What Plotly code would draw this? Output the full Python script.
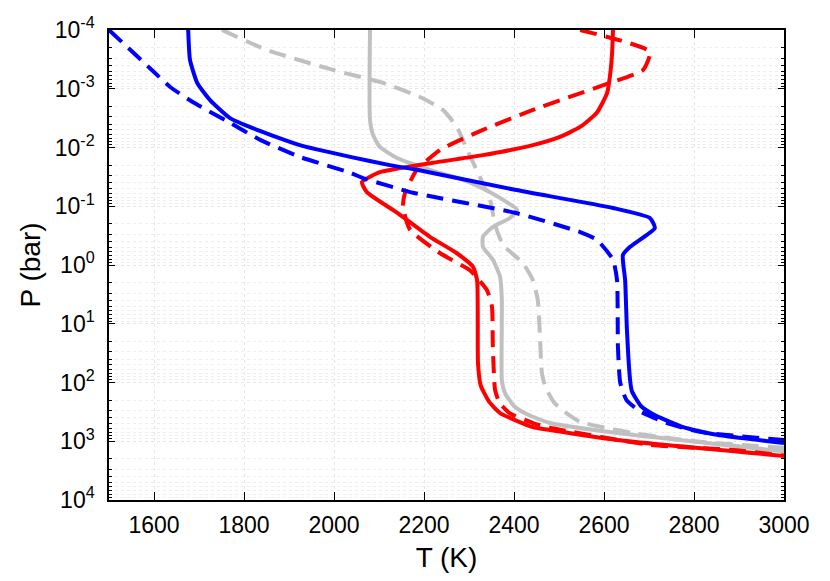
import plotly.graph_objects as go

# Temperature (K) and log10 pressure (bar)
blue_solid_T = [1676, 1680, 1696, 1724, 1769, 1829, 1924, 2036, 2124, 2184, 2402, 2620, 2702, 2713, 2658, 2642, 2647, 2651, 2658, 2662, 2682, 2709, 2776, 2851, 3000]
blue_solid_logP = [-4.0, -3.49, -3.10, -2.81, -2.50, -2.30, -2.04, -1.84, -1.70, -1.62, -1.28, -0.97, -0.80, -0.63, -0.31, -0.17, 0.26, 1.11, 1.96, 2.15, 2.40, 2.54, 2.76, 2.89, 3.03]

blue_dash_T = [1500, 1591, 1636, 1687, 1769, 1836, 1924, 2036, 2064, 2176, 2402, 2547, 2584, 2620, 2629, 2631, 2636, 2650, 2680, 2740, 2813, 3000]
blue_dash_logP = [-4.0, -3.35, -3.03, -2.77, -2.42, -2.13, -1.84, -1.57, -1.48, -1.23, -0.89, -0.56, -0.43, -0.09, 0.26, 1.40, 2.00, 2.30, 2.49, 2.69, 2.84, 2.98]

grey_solid_T = [2080, 2080, 2087, 2102, 2140, 2213, 2287, 2347, 2384, 2407, 2391, 2353, 2331, 2331, 2353, 2369, 2373, 2373, 2380, 2400, 2429, 2480, 2629, 3000]
grey_solid_logP = [-4.0, -2.47, -2.21, -2.01, -1.82, -1.62, -1.45, -1.24, -1.07, -0.94, -0.80, -0.65, -0.48, -0.31, -0.09, 0.20, 0.60, 1.96, 2.18, 2.40, 2.54, 2.69, 2.86, 3.17]

grey_dash_T = [1751, 1851, 1998, 2109, 2191, 2242, 2273, 2296, 2324, 2347, 2358, 2376, 2420, 2442, 2453, 2458, 2462, 2470, 2490, 2518, 2547, 2664, 2813, 3000]
grey_dash_logP = [-4.0, -3.66, -3.32, -3.10, -2.86, -2.64, -2.35, -1.96, -1.50, -1.11, -0.68, -0.34, -0.03, 0.26, 0.60, 1.28, 1.84, 2.08, 2.35, 2.53, 2.67, 2.86, 3.01, 3.11]

red_solid_T = [2620, 2618, 2613, 2607, 2584, 2547, 2502, 2442, 2331, 2220, 2102, 2062, 2073, 2140, 2213, 2273, 2309, 2318, 2320, 2326, 2345, 2369, 2442, 2480, 2629, 3000]
red_solid_logP = [-4.0, -3.61, -3.20, -2.93, -2.59, -2.35, -2.18, -2.04, -1.87, -1.74, -1.58, -1.41, -1.24, -0.89, -0.48, -0.20, 0.03, 0.26, 1.67, 2.05, 2.33, 2.52, 2.76, 2.81, 2.98, 3.25]

red_dash_T = [2547, 2702, 2687, 2613, 2442, 2331, 2236, 2184, 2158, 2153, 2169, 2236, 2302, 2340, 2351, 2353, 2358, 2368, 2390, 2442, 2480, 2702, 3000]
red_dash_logP = [-4.0, -3.63, -3.32, -3.10, -2.64, -2.30, -1.96, -1.62, -1.23, -0.99, -0.60, -0.20, 0.09, 0.43, 0.71, 1.40, 2.13, 2.35, 2.52, 2.69, 2.77, 3.06, 3.18]

x_ticks = [1600, 1800, 2000, 2200, 2400, 2600, 2800, 3000]
y_exponents = [-4, -3, -2, -1, 0, 1, 2, 3, 4]

BLUE = "#0000ff"
RED = "#ff0000"
GREY = "#c0c0c0"
DASH = "17px,9px"

series = [
    (grey_dash_T, grey_dash_logP, GREY, DASH),
    (red_dash_T, red_dash_logP, RED, DASH),
    (grey_solid_T, grey_solid_logP, GREY, "solid"),
    (red_solid_T, red_solid_logP, RED, "solid"),
    (blue_dash_T, blue_dash_logP, BLUE, DASH),
    (blue_solid_T, blue_solid_logP, BLUE, "solid"),
]

fig = go.Figure()
for T, lp, col, dash in series:
    fig.add_trace(go.Scatter(
        x=T, y=[10 ** v for v in lp], mode="lines",
        line=dict(color=col, width=4, dash=dash, shape="spline", smoothing=0.5),
        showlegend=False, hoverinfo="skip",
    ))

font = dict(family="Liberation Sans, Arial, sans-serif", size=23, color="black")

fig.update_layout(
    width=814, height=565,
    margin=dict(l=101, r=38, t=22, b=73),
    paper_bgcolor="white", plot_bgcolor="white",
    font=font,
    xaxis=dict(
        range=[1500, 3000], tickvals=x_ticks,
        ticks="inside", ticklen=8, tickwidth=1.2, tickcolor="black",
        showline=True, linecolor="black", linewidth=1.5, mirror="ticks",
        showgrid=True, gridcolor="#e6e6e6", griddash="dot", gridwidth=1,
        zeroline=False, automargin=False, ticklabelstandoff=4,
        title=dict(text="T (K)", standoff=12),
        tickfont=font,
    ),
    yaxis=dict(
        type="log", range=[4, -4],
        tickvals=[10 ** e for e in y_exponents],
        ticktext=["10<sup>%d</sup>" % e for e in y_exponents],
        ticks="inside", ticklen=6, tickwidth=1.2, tickcolor="black",
        showline=True, linecolor="black", linewidth=1.5, mirror="ticks",
        showgrid=True, gridcolor="#e6e6e6", griddash="dot", gridwidth=1,
        minor=dict(dtick="D1", ticks="inside", ticklen=3, tickcolor="black",
                   showgrid=True, gridcolor="#eeeeee", griddash="dot", gridwidth=1),
        zeroline=False, automargin=False, ticklabelstandoff=8,
        title=dict(text="P (bar)", standoff=6),
        tickfont=font,
    ),
)

fig.write_html("out.html")
